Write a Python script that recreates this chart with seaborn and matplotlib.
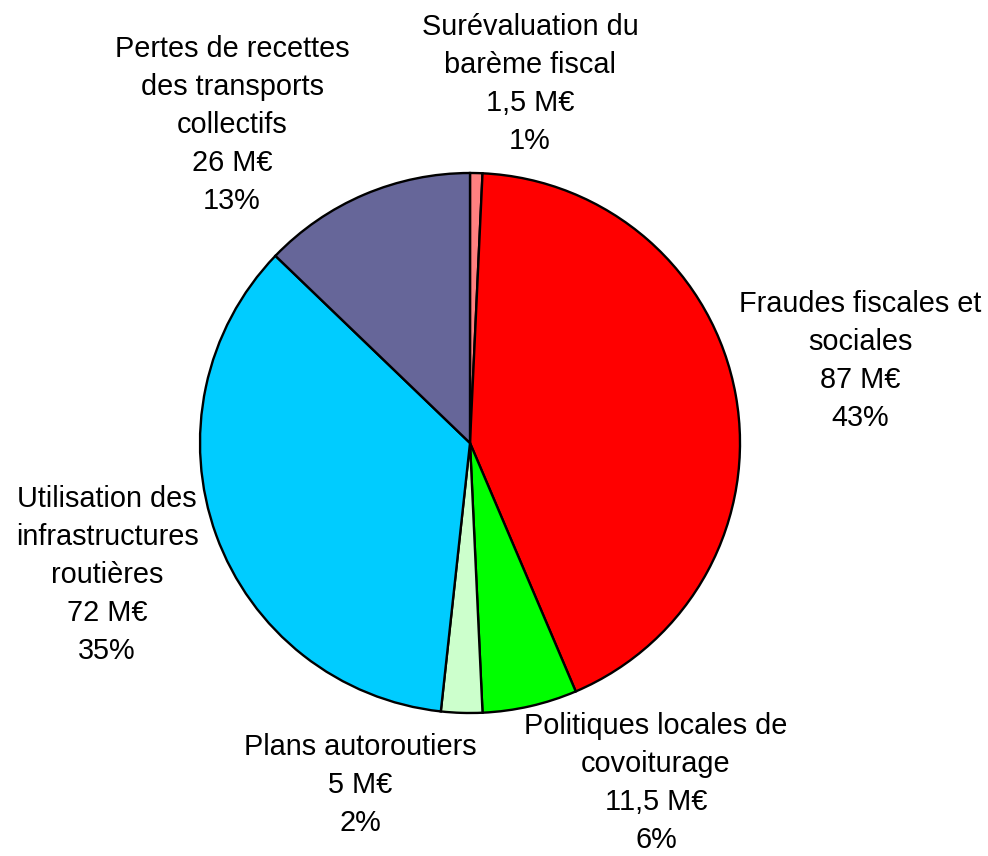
import matplotlib
matplotlib.use("Agg")
import matplotlib.pyplot as plt
import seaborn as sns

sns.set_style("white")
plt.rcParams['font.family'] = ['Liberation Sans', 'DejaVu Sans']

categories = ["Surévaluation du\nbarème fiscal",
              "Fraudes fiscales et\nsociales",
              "Politiques locales de\ncovoiturage",
              "Plans autoroutiers",
              "Utilisation des\ninfrastructures\nroutières",
              "Pertes de recettes\ndes transports\ncollectifs"]
values = [1.5, 87, 11.5, 5, 72, 26]
value_labels = ["1,5 M€", "87 M€", "11,5 M€", "5 M€", "72 M€", "26 M€"]
pct_labels = ["1%", "43%", "6%", "2%", "35%", "13%"]
colors = ["#FF8080", "#FF0000", "#00FF00", "#CCFFCC", "#00CCFF", "#666699"]

# label centers in pixel coordinates (layout only)
label_px = [(530, 84), (860, 361), (656, 783), (360, 785), (107, 575), (232, 125)]

W, H = 988, 856
fig = plt.figure(figsize=(W / 100, H / 100), dpi=100)
cx, cy, r = 470, 443, 270
ax = fig.add_axes([(cx - r) / W, (H - cy - r) / H, 2 * r / W, 2 * r / H])
ax.pie(values, colors=colors, startangle=90, counterclock=False, radius=1,
       wedgeprops=dict(edgecolor="black", linewidth=1.7))
ax.set_xlim(-1, 1)
ax.set_ylim(-1, 1)
ax.set_aspect("equal")
ax.axis("off")

for cat, v, p, (px, py) in zip(categories, value_labels, pct_labels, label_px):
    fig.text(px / W, 1 - py / H, f"{cat}\n{v}\n{p}", ha="center", va="center",
             fontsize=20.8, linespacing=1.45, color="black")

fig.savefig("out.png", dpi=100)
